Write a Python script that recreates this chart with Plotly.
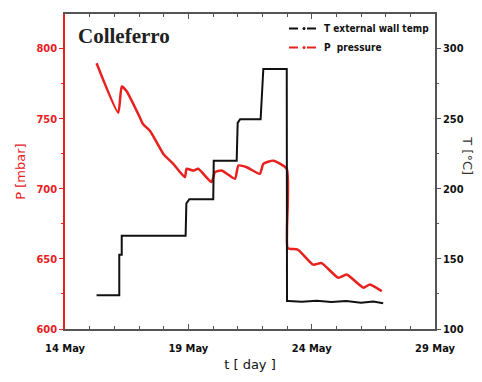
import plotly.graph_objects as go

# Pressure series (day of May, mbar)
p_day = [15.28, 16.16, 16.30, 16.5, 17.04, 17.17, 17.45, 17.99, 18.39, 18.86, 18.93, 19.2, 19.4,
         19.94, 20.08, 20.35, 20.89, 21.03, 21.37, 21.9, 22.04, 22.45, 22.99, 23.0, 23.03, 23.45,
         24.06, 24.4, 25.08, 25.42, 26.1, 26.36, 26.84]
p_val = [789.6, 754.3, 773, 769.6, 750.7, 746, 741.3, 724.9, 717.8, 708.3, 714.3, 713, 714.3,
         704.8, 711.9, 713, 707.2, 716.6, 715.4, 710.7, 717.8, 720.1, 714.3, 670.7, 657.7, 656.5,
         645.9, 647, 636.5, 638.9, 629.5, 631.8, 627]

# Temperature series (day of May, degC)
t_day = [15.28, 16.2, 16.2, 16.3, 16.3, 18.89, 18.92, 19.04, 20.01, 20.03, 20.96, 21.0, 21.1,
         21.93, 21.97, 22.04, 22.99, 23.0, 23.05, 23.6, 24.2, 24.8, 25.4, 26.0, 26.5, 26.9]
t_val = [124, 124, 153, 153, 166.6, 166.6, 189.5, 192.6, 192.6, 220.1, 220.1, 247, 249.6,
         249.6, 262.5, 285.5, 285.5, 120, 120, 119.5, 120.2, 119.3, 120, 118.8, 119.6, 118.4]

x_tickvals = [14, 19, 24, 29]
x_ticktext = ["14 May", "19 May", "24 May", "29 May"]

RED = "#e8201e"
tickfont = dict(family="DejaVu Sans Condensed, DejaVu Sans", size=11, weight="bold")

fig = go.Figure()
fig.add_trace(go.Scatter(x=p_day, y=p_val, mode="lines", yaxis="y",
                         line=dict(color=RED, width=2.5, shape="spline", smoothing=0.5),
                         showlegend=False))
fig.add_trace(go.Scatter(x=t_day, y=t_val, mode="lines", yaxis="y2",
                         line=dict(color="#111111", width=2), showlegend=False))
# legend entries
fig.add_trace(go.Scatter(x=[None], y=[None], mode="lines+markers", name="T external wall temp",
                         line=dict(color="#111111", width=2, dash="dash"),
                         marker=dict(size=3, color="#111111")))
fig.add_trace(go.Scatter(x=[None], y=[None], mode="lines+markers", name="P  pressure",
                         line=dict(color=RED, width=2, dash="dash"),
                         marker=dict(size=3, color=RED)))

fig.update_layout(
    width=482, height=382,
    margin=dict(l=65, r=47, t=12, b=52),
    paper_bgcolor="white", plot_bgcolor="white",
    font=dict(family="DejaVu Sans", color="#111111"),
    xaxis=dict(range=[14, 29], tickvals=x_tickvals, ticktext=x_ticktext,
               tickfont=tickfont, showgrid=False, zeroline=False,
               showline=True, linecolor="#555555", linewidth=1.5, mirror="ticks",
               ticks="inside", ticklen=5, tickcolor="#555555", ticklabelstandoff=8,
               minor=dict(dtick=1, tick0=14, ticks="inside", ticklen=3, tickcolor="#555555"),
               title=dict(text="t [ day ]", font=dict(size=13), standoff=6)),
    yaxis=dict(range=[600, 824.7], tickvals=[600, 650, 700, 750, 800],
               tickfont=dict(family="DejaVu Sans Condensed, DejaVu Sans", size=11, weight="bold", color=RED),
               showgrid=False, zeroline=False, showline=True, linecolor=RED, linewidth=1.5,
               ticks="outside", ticklen=4, tickcolor=RED,
               minor=dict(dtick=25, ticks="outside", ticklen=2, tickcolor=RED),
               title=dict(text="P [mbar]", font=dict(size=13, color=RED), standoff=8)),
    yaxis2=dict(range=[100, 324.7], overlaying="y", side="right",
                tickvals=[100, 150, 200, 250, 300],
                tickfont=tickfont, showgrid=False, zeroline=False,
                showline=True, linecolor="#555555", linewidth=1.5,
                ticks="outside", ticklen=4, tickcolor="#555555",
                minor=dict(dtick=25, ticks="outside", ticklen=2, tickcolor="#555555")),
    legend=dict(x=1.0, y=1.0, xanchor="right", yanchor="top", bgcolor="rgba(0,0,0,0)",
                font=dict(family="DejaVu Sans Condensed, DejaVu Sans", size=10, weight="bold"),
                tracegroupgap=0, itemwidth=30),
    showlegend=True,
)

fig.add_annotation(text="Colleferro", xref="paper", yref="paper", x=0.03, y=0.975,
                   xanchor="left", yanchor="top", showarrow=False,
                   font=dict(family="Liberation Serif", size=21, weight="bold", color="#222222"))
fig.add_annotation(text="T [°C]", xref="paper", yref="paper", x=1.0, y=0.55,
                   xshift=42, textangle=90, showarrow=False,
                   font=dict(size=13, color="#333333"))

fig.write_html("out.html")
